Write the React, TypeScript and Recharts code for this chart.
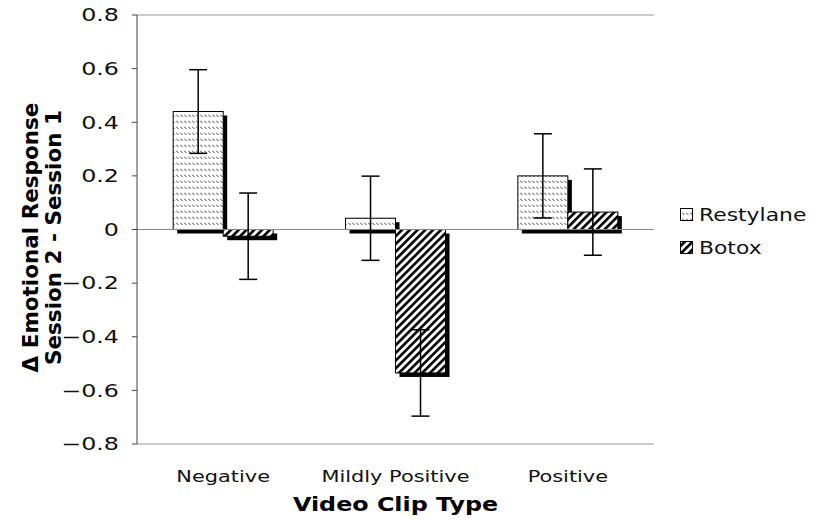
import React from 'react';
import { BarChart, Bar, XAxis, YAxis, ReferenceLine, ErrorBar } from 'recharts';

const categories = ['Negative', 'Mildly Positive', 'Positive'];
const restylaneValues = [0.44, 0.042, 0.2];
const restylaneErrors = [0.156, 0.157, 0.157];
const botoxValues = [-0.025, -0.535, 0.065];
const botoxErrors = [0.161, 0.161, 0.161];
const yTicks = [0.8, 0.6, 0.4, 0.2, 0, -0.2, -0.4, -0.6, -0.8];
const seriesNames = ['Restylane', 'Botox'];

const data = categories.map((name, i) => ({
  name,
  restylane: restylaneValues[i],
  restylaneErr: restylaneErrors[i],
  botox: botoxValues[i],
  botoxErr: botoxErrors[i],
}));

const FONT = '"DejaVu Sans", Verdana, sans-serif';
const SX = 1.25;

const makeShape = (fillId: string) => (props: any) => {
  const { x, y, width, height } = props;
  const top = Math.min(y, y + height);
  const h = Math.abs(height);
  return (
    <g>
      <rect x={x + 4} y={top + 4} width={width} height={h} fill="#000" />
      <rect x={x} y={top} width={width} height={h} fill={`url(#${fillId})`} stroke="#000" strokeWidth={1} />
    </g>
  );
};

const YTick = (props: any) => {
  const { x, y, payload } = props;
  const v = payload.value;
  const label = v === 0 ? '0' : (v < 0 ? '\u2212' : '') + Math.abs(v).toFixed(1);
  return (
    <g transform={`translate(${x},${y}) scale(1.36,1)`}>
      <text x={0} y={0} dy="0.36em" textAnchor="end" fontSize={17.5} fill="#111" fontFamily={FONT}>
        {label}
      </text>
    </g>
  );
};

const XTick = (props: any) => {
  const { x, payload } = props;
  return (
    <g transform={`translate(${x},482) scale(${SX},1)`}>
      <text x={0} y={0} textAnchor="middle" fontSize={16.7} fill="#111" fontFamily={FONT}>
        {payload.value}
      </text>
    </g>
  );
};

const XTitle = (props: any) => {
  const vb = props.viewBox || {};
  const cx = vb.x + vb.width / 2;
  return (
    <g transform={`translate(${cx},511) scale(1.22,1)`}>
      <text x={0} y={0} textAnchor="middle" fontSize={19.5} fontWeight="bold" fill="#000" fontFamily={FONT}>
        Video Clip Type
      </text>
    </g>
  );
};

const YTitle = (props: any) => {
  const vb = props.viewBox || {};
  const cy = vb.y + vb.height / 2 + 8;
  return (
    <g>
      <text transform={`translate(38,${cy}) rotate(-90)`} textAnchor="middle" fontSize={21.5} fontWeight="bold" fill="#000" fontFamily={FONT}>
        Δ Emotional Response
      </text>
      <text transform={`translate(61,${cy}) rotate(-90)`} textAnchor="middle" fontSize={21.5} fontWeight="bold" fill="#000" fontFamily={FONT}>
        Session 2 - Session 1
      </text>
    </g>
  );
};

const PatternDefs = ({ suffix }: { suffix: string }) => (
  <defs>
    <pattern id={`rest${suffix}`} patternUnits="userSpaceOnUse" width={4} height={6}>
      <rect width={4} height={6} fill="#fff" />
      <path d="M0,0.5 L2.5,3" stroke="#444" strokeWidth={1} />
    </pattern>
    <pattern id={`botox${suffix}`} patternUnits="userSpaceOnUse" width={5.5} height={5.5} patternTransform="rotate(45)">
      <rect width={5.5} height={5.5} fill="#fff" />
      <rect width={2.6} height={5.5} fill="#000" />
    </pattern>
  </defs>
);

const LegendBox = () => (
  <svg width={136} height={64} style={{ position: 'absolute', left: 678, top: 200 }}>
    <PatternDefs suffix="L" />
    <rect x={2.5} y={8.5} width={12} height={12} fill="url(#restL)" stroke="#000" strokeWidth={1} />
    <g transform={`translate(21,21) scale(${SX},1)`}>
      <text x={0} y={0} fontSize={17.5} fill="#111" fontFamily={FONT}>{seriesNames[0]}</text>
    </g>
    <rect x={2.5} y={41.5} width={12} height={12} fill="url(#botoxL)" stroke="#000" strokeWidth={1} />
    <g transform={`translate(21,54) scale(${SX},1)`}>
      <text x={0} y={0} fontSize={17.5} fill="#111" fontFamily={FONT}>{seriesNames[1]}</text>
    </g>
  </svg>
);

export default function App() {
  return (
    <div style={{ position: 'absolute', left: 0, top: 0, width: 814, height: 521, background: '#fff' }}>
      <BarChart
        width={814}
        height={521}
        data={data}
        margin={{ top: 15, right: 160, bottom: 17, left: 0 }}
        barCategoryGap="21%"
        barGap={0}
      >
        <PatternDefs suffix="" />
        <XAxis
          dataKey="name"
          height={60}
          axisLine={{ stroke: '#999' }}
          tickLine={false}
          tick={<XTick />}
          interval={0}
          label={{ content: <XTitle /> } as any}
        />
        <YAxis
          domain={[-0.8, 0.8]}
          ticks={yTicks}
          width={137}
          interval={0}
          axisLine={{ stroke: '#444' }}
          tickLine={{ stroke: '#444' }}
          tickSize={5}
          tickMargin={13}
          tick={<YTick />}
          label={{ content: <YTitle /> } as any}
          allowDataOverflow
        />
        <YAxis
          yAxisId="r"
          orientation="right"
          domain={[-0.8, 0.8]}
          width={0}
          tick={false}
          tickLine={false}
          axisLine={{ stroke: '#999' }}
        />
        <ReferenceLine y={0.8} stroke="#999" />
        <ReferenceLine y={0} stroke="#888" />
        <Bar dataKey="restylane" name={seriesNames[0]} shape={makeShape('rest')} isAnimationActive={false}>
          <ErrorBar dataKey="restylaneErr" width={9} stroke="#000" strokeWidth={1.5} />
        </Bar>
        <Bar dataKey="botox" name={seriesNames[1]} shape={makeShape('botox')} isAnimationActive={false}>
          <ErrorBar dataKey="botoxErr" width={9} stroke="#000" strokeWidth={1.5} />
        </Bar>
      </BarChart>
      <LegendBox />
    </div>
  );
}
